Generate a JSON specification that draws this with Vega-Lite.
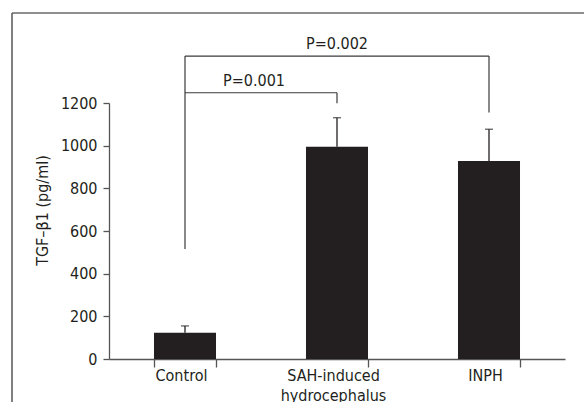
{
  "$schema": "https://vega.github.io/schema/vega-lite/v6.json",
  "width": 572,
  "height": 389,
  "autosize": {"type": "none"},
  "padding": {"left": 12, "top": 13, "right": 0, "bottom": 0},
  "background": "white",
  "datasets": {
    "bars": [
      {"group": "Control", "mean": 123, "upper": 155},
      {"group": "SAH-induced hydrocephalus", "mean": 995, "upper": 1131},
      {"group": "INPH", "mean": 928, "upper": 1077}
    ],
    "brackets": [
      {"from": "Control", "to": "Control", "low": 516, "high": 1420},
      {"from": "Control", "to": "INPH", "low": 1420, "high": 1420},
      {"from": "INPH", "to": "INPH", "low": 1155, "high": 1420},
      {"from": "Control", "to": "SAH-induced hydrocephalus", "low": 1248, "high": 1248},
      {"from": "SAH-induced hydrocephalus", "to": "SAH-induced hydrocephalus", "low": 1199, "high": 1248}
    ],
    "p1": [{"group": "Control", "label": "P=0.001", "y": 1305}],
    "p2": [{"group": "SAH-induced hydrocephalus", "label": "P=0.002", "y": 1477}],
    "frame": [{"side": "top", "pos": 1}, {"side": "left", "pos": 0}]
  },
  "resolve": {"scale": {"x": "independent", "y": "independent"}, "axis": {"x": "independent", "y": "independent"}},
  "layer": [
    {
      "data": {"name": "frame"},
      "transform": [{"filter": "datum.side == 'top'"}],
      "mark": {"type": "rule", "color": "#6a6a6a", "strokeWidth": 1.4},
      "encoding": {
        "y": {"field": "pos", "type": "quantitative", "scale": {"domain": [0, 1], "nice": false}, "axis": null}
      }
    },
    {
      "data": {"name": "frame"},
      "transform": [{"filter": "datum.side == 'left'"}],
      "mark": {"type": "rule", "color": "#4a4a4a", "strokeWidth": 1.4},
      "encoding": {
        "x": {"field": "pos", "type": "quantitative", "scale": {"domain": [0, 1], "nice": false}, "axis": null}
      }
    },
    {
      "layer": [
        {
          "data": {"name": "bars"},
          "mark": {"type": "bar", "color": "#231f20"},
          "encoding": {
            "x": {
              "field": "group", "type": "nominal", "sort": null,
              "scale": {"domain": ["Control", "SAH-induced hydrocephalus", "INPH"], "range": [97, 553], "paddingInner": 0.592, "paddingOuter": 0.296},
              "axis": {
                "title": null, "orient": "bottom", "offset": -43, "tickBand": "extent", "tickSize": 8,
                "labelPadding": 0, "labelAngle": 0, "labelLineHeight": 20, "labelOffset": -4,
                "labelExpr": "datum.label == 'SAH-induced hydrocephalus' ? ['SAH-induced', 'hydrocephalus'] : datum.label"
              }
            },
            "y": {
              "field": "mean", "type": "quantitative",
              "scale": {"domain": [0, 1200], "range": [346, 90], "nice": false},
              "axis": {
                "title": "TGF–β1 (pg/ml)", "orient": "left", "offset": -97, "format": "d",
                "values": [0, 200, 400, 600, 800, 1000, 1200], "tickSize": 6, "labelPadding": 6, "grid": false,
                "titleX": -67, "titleY": 197, "titleBaseline": "middle", "titleAlign": "center", "titleAngle": -90
              }
            }
          }
        },
        {
          "data": {"name": "bars"},
          "mark": {"type": "rule", "color": "#231f20", "strokeWidth": 1.3},
          "encoding": {
            "x": {"field": "group", "type": "nominal", "sort": null},
            "y": {"field": "mean", "type": "quantitative"},
            "y2": {"field": "upper"}
          }
        },
        {
          "data": {"name": "bars"},
          "mark": {"type": "tick", "color": "#231f20", "thickness": 1.3},
          "encoding": {
            "x": {"field": "group", "type": "nominal", "sort": null},
            "y": {"field": "upper", "type": "quantitative"},
            "size": {"value": 8}
          }
        },
        {
          "data": {"name": "brackets"},
          "mark": {"type": "rule", "color": "#3a3a3a", "strokeWidth": 1.2},
          "encoding": {
            "x": {"field": "from", "type": "nominal", "sort": null},
            "x2": {"field": "to"},
            "y": {"field": "low", "type": "quantitative"},
            "y2": {"field": "high"}
          }
        },
        {
          "data": {"name": "p1"},
          "mark": {"type": "text", "color": "#231f20", "fontSize": 16, "baseline": "middle", "align": "center", "dx": 69},
          "encoding": {
            "x": {"field": "group", "type": "nominal", "sort": null},
            "y": {"field": "y", "type": "quantitative"},
            "text": {"field": "label"}
          }
        },
        {
          "data": {"name": "p2"},
          "mark": {"type": "text", "color": "#231f20", "fontSize": 16, "baseline": "middle", "align": "center"},
          "encoding": {
            "x": {"field": "group", "type": "nominal", "sort": null},
            "y": {"field": "y", "type": "quantitative"},
            "text": {"field": "label"}
          }
        }
      ]
    }
  ],
  "config": {
    "font": "'DejaVu Sans Condensed', 'Liberation Sans Narrow', sans-serif",
    "view": {"stroke": null},
    "axis": {
      "domainColor": "#555555", "domainWidth": 1.3, "tickColor": "#555555", "tickWidth": 1.3,
      "labelColor": "#231f20", "labelFontSize": 16, "titleColor": "#231f20", "titleFontSize": 16,
      "titleFontWeight": "normal", "labelFont": "'DejaVu Sans Condensed', 'Liberation Sans Narrow', sans-serif",
      "titleFont": "'DejaVu Sans Condensed', 'Liberation Sans Narrow', sans-serif"
    }
  }
}
